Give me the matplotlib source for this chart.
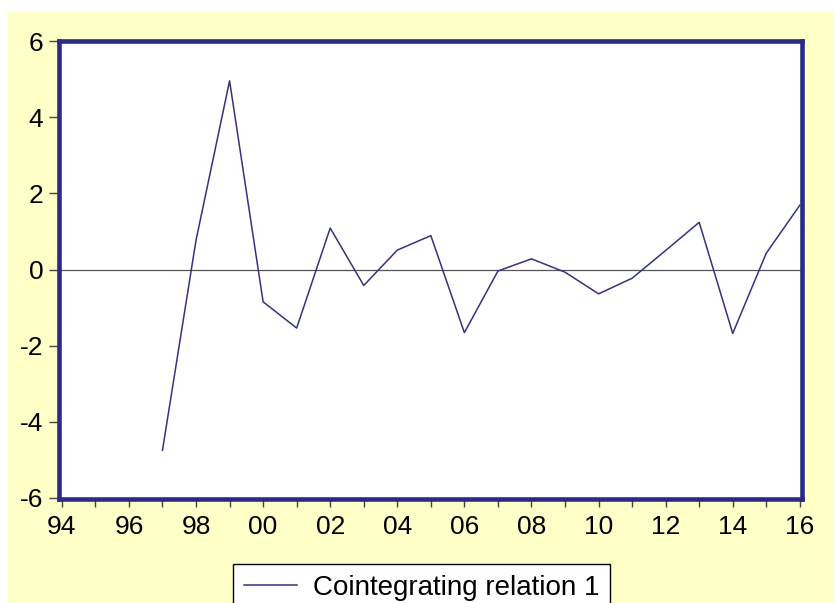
import numpy as np
import matplotlib
matplotlib.use('Agg')
import matplotlib.pyplot as plt
from matplotlib.patches import Rectangle
from matplotlib.ticker import MultipleLocator, FuncFormatter

plt.rcParams['font.family'] = ['Liberation Sans', 'DejaVu Sans']

# cointegrating relation, annual 1997-2016
years = [1997, 1998, 1999, 2000, 2001, 2002, 2003, 2004, 2005, 2006,
         2007, 2008, 2009, 2010, 2011, 2012, 2013, 2014, 2015, 2016]
coint = [-4.75, 0.77, 4.96, -0.85, -1.54, 1.09, -0.42, 0.51, 0.89, -1.66,
         -0.04, 0.28, -0.07, -0.64, -0.23, 0.50, 1.24, -1.68, 0.43, 1.69]
yticks = [-6, -4, -2, 0, 2, 4, 6]
series_name = 'Cointegrating relation 1'

W, H = 835, 603
fig = plt.figure(figsize=(W / 100, H / 100), dpi=100, facecolor='white')

# pale yellow frame behind the plot
fig.patches.append(Rectangle((8 / W, 0), (833 - 8) / W, 1 - 11 / H,
                             transform=fig.transFigure, facecolor='#FFFFC8',
                             edgecolor='none', zorder=-10))

left, right, top, bottom = 58.5, 801.5, 40.5, 498.5
ax = fig.add_axes([left / W, 1 - bottom / H, (right - left) / W, (bottom - top) / H])
ax.set_facecolor('white')

ax.axhline(0, color='#555555', lw=0.9, zorder=1)
ax.plot(years, coint, color='#33337F', lw=1.1, zorder=2)

ax.set_xlim(1993.9, 2016.05)
ax.set_ylim(-6.02, 6.02)

ax.xaxis.set_major_locator(MultipleLocator(2))
ax.xaxis.set_minor_locator(MultipleLocator(1))
ax.xaxis.set_major_formatter(FuncFormatter(lambda v, p: '%02d' % (int(round(v)) % 100)))
ax.set_yticks(yticks)
ax.set_yticklabels([str(v) for v in yticks])

fs = 19
ax.tick_params(axis='x', which='both', direction='out', length=6, width=1,
               color='#444444', labelsize=fs, pad=6, top=False)
ax.tick_params(axis='y', direction='out', length=7, width=1, color='#444444',
               labelsize=fs, pad=4, right=False)

for s in ax.spines.values():
    s.set_color('#2A2A88')
    s.set_linewidth(3.3)

leg = fig.legend([plt.Line2D([], [], color='#33337F', lw=1.1)], [series_name],
                 loc='upper left', bbox_to_anchor=(233 / W, 1 - 564 / H),
                 fontsize=20, fancybox=False, framealpha=1, edgecolor='black',
                 borderaxespad=0, handlelength=1.9, handletextpad=0.57,
                 borderpad=0.4)
leg.get_frame().set_linewidth(1)

fig.savefig('out.png', dpi=100, facecolor=fig.get_facecolor())
